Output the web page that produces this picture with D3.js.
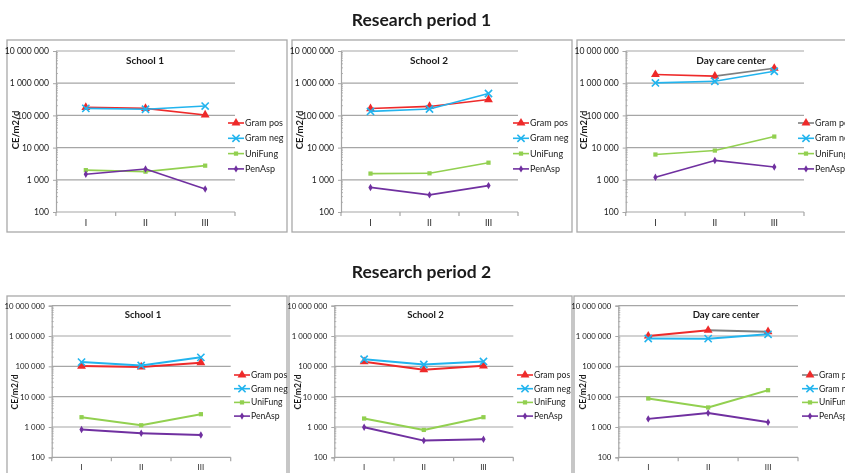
<!DOCTYPE html>
<html>
<head>
<meta charset="utf-8">
<script src="https://cdn.jsdelivr.net/npm/d3@7"></script>
<style>
  html, body { margin: 0; padding: 0; background: #ffffff; }
  svg { display: block; }
  text { font-family: Lato, "Liberation Sans", Arial, sans-serif; fill: #1a1a1a; }
</style>
</head>
<body>
<svg id="chart" width="845" height="473"></svg>
<script>
// ---- data ----------------------------------------------------------
const categories = ["I", "II", "III"];
const seriesNames = ["Gram pos", "Gram neg", "UniFung", "PenAsp"];
const yTickValues = [100, 1000, 10000, 100000, 1000000, 10000000];
const periodTitles = ["Research period 1", "Research period 2"];
const siteTitles = ["School 1", "School 2", "Day care center"];

// rows: Gram pos, Gram neg, UniFung, PenAsp — columns: I, II, III (CE/m2/d)
const period1School1 = [
  [178000, 165000, 103000],
  [165000, 155000, 195000],
  [2000, 1790, 2750],
  [1480, 2170, 520]
];
const period1School2 = [
  [163000, 190000, 310000],
  [133000, 158000, 480000],
  [1560, 1590, 3400],
  [580, 340, 660]
];
const period1DayCare = [
  [1860000, 1660000, 2900000],
  [1020000, 1150000, 2350000],
  [6100, 8100, 22000],
  [1200, 4000, 2500]
];
const period2School1 = [
  [102000, 96000, 132000],
  [138000, 107000, 198000],
  [2100, 1140, 2640],
  [825, 620, 545]
];
const period2School2 = [
  [142000, 77000, 104000],
  [172000, 115000, 145000],
  [1900, 800, 2100],
  [980, 355, 395]
];
const period2DayCare = [
  [1000000, 1550000, 1390000],
  [830000, 820000, 1140000],
  [8700, 4400, 16300],
  [1850, 2900, 1440]
];

// ---- styling ------------------------------------------------------
const seriesColors = ["#ee2a2a", "#22b4ee", "#92d050", "#7030a0"];
const seriesMarkers = ["triangle", "cross", "square", "diamond"];
const gridColor = "#a6a6a6";
const frameColor = "#a9a9a9";
const textColor = "#1a1a1a";

// ---- layout -------------------------------------------------------
const rows = [
  {
    data: [period1School1, period1School2, period1DayCare],
    titleY: 26, frameTop: 40, frameBottom: 232,
    plotTop: 51, plotBottom: 212, catY: 225.5, siteY: 63.5,
    yTitleY: 130, legendY0: 123, legendDy: 15.3,
    fs: { tick: 8.6, yTitle: 9.5, site: 10, legend: 9 },
    panels: [
      { frame: [7, 287], plot: [56, 235], legendX: 228, yTitleX: 16, titleX: 145, greyTail: false },
      { frame: [292, 572], plot: [341, 518], legendX: 513, yTitleX: 300, titleX: 429, greyTail: false },
      { frame: [577, 900], plot: [625.7, 804], legendX: 798, yTitleX: 584, titleX: 731, greyTail: true }
    ]
  },
  {
    data: [period2School1, period2School2, period2DayCare],
    titleY: 278, frameTop: 296, frameBottom: 490,
    plotTop: 305.7, plotBottom: 457.3, catY: 470, siteY: 317.5,
    yTitleY: 392, legendY0: 375, legendDy: 13.7,
    fs: { tick: 7.8, yTitle: 8.6, site: 9.6, legend: 8.6 },
    panels: [
      { frame: [7, 287], plot: [51.7, 230.7], legendX: 234, yTitleX: 15, titleX: 143, greyTail: false },
      { frame: [289, 572], plot: [334.3, 513.3], legendX: 517, yTitleX: 298, titleX: 425.5, greyTail: false },
      { frame: [574, 900], plot: [618.3, 798], legendX: 802, yTitleX: 583, titleX: 726, greyTail: true }
    ]
  }
];

const svg = d3.select("#chart");

// render everything through a neutral filter so text gets greyscale anti-aliasing
svg.append("defs").append("filter").attr("id", "flat")
  .attr("x", 0).attr("y", 0).attr("width", 1).attr("height", 1)
  .attr("filterUnits", "userSpaceOnUse")
  .append("feOffset").attr("dx", 0).attr("dy", 0);
svg.select("#flat").attr("width", 845).attr("height", 473);
const root = svg.append("g").attr("filter", "url(#flat)");
root.append("rect").attr("width", 845).attr("height", 473).attr("fill", "#fff");

const fmt = v => d3.format(",")(v).replace(/,/g, " ");

function drawMarker(g, type, color, x, y) {
  if (type === "cross") {
    const s = 3.6;
    g.append("path")
      .attr("d", `M${x - s},${y - s}L${x + s},${y + s}M${x - s},${y + s}L${x + s},${y - s}`)
      .attr("stroke", color).attr("stroke-width", 1.6).attr("fill", "none");
    return;
  }
  const sym = { triangle: d3.symbolTriangle, square: d3.symbolSquare, diamond: d3.symbolDiamond }[type];
  const size = { triangle: 34, square: 18, diamond: 16 }[type];
  g.append("path")
    .attr("d", d3.symbol(sym, size)())
    .attr("transform", `translate(${x},${y})`)
    .attr("fill", color);
}

rows.forEach((row, ri) => {
  root.append("text")
    .attr("x", 421.5).attr("y", row.titleY)
    .attr("text-anchor", "middle")
    .attr("font-size", 17.5).attr("font-weight", 700)
    .attr("fill", textColor)
    .text(periodTitles[ri]);

  row.panels.forEach((p, pi) => {
    const values = row.data[pi];
    const g = root.append("g");

    // panel frame
    g.append("rect")
      .attr("x", p.frame[0]).attr("y", row.frameTop)
      .attr("width", p.frame[1] - p.frame[0]).attr("height", row.frameBottom - row.frameTop)
      .attr("fill", "#fff").attr("stroke", frameColor).attr("stroke-width", 1.3);

    const x = d3.scaleBand().domain(categories).range(p.plot);
    const y = d3.scaleLog().domain([100, 10000000]).range([row.plotBottom, row.plotTop]);

    // horizontal gridlines
    g.append("g").selectAll("line").data(yTickValues).join("line")
      .attr("x1", p.plot[0]).attr("x2", p.plot[1])
      .attr("y1", d => y(d)).attr("y2", d => y(d))
      .attr("stroke", gridColor).attr("stroke-width", 1.2);

    // y axis with major labels
    const yAxis = g.append("g")
      .attr("transform", `translate(${p.plot[0]},0)`)
      .call(d3.axisLeft(y).tickValues(yTickValues).tickFormat(fmt).tickSize(3).tickPadding(4));
    yAxis.select(".domain").attr("stroke", gridColor).attr("stroke-width", 1.2);
    yAxis.selectAll(".tick line").attr("stroke", gridColor);
    yAxis.selectAll(".tick text")
      .attr("font-family", "Lato, 'Liberation Sans', sans-serif")
      .attr("font-size", row.fs.tick).attr("fill", textColor);

    // log minor ticks
    const minor = [];
    for (let e = 100; e < 10000000; e *= 10) for (let k = 2; k <= 9; k++) minor.push(e * k);
    g.append("g").selectAll("line").data(minor).join("line")
      .attr("x1", p.plot[0]).attr("x2", p.plot[0] + 2)
      .attr("y1", d => y(d)).attr("y2", d => y(d))
      .attr("stroke", gridColor).attr("stroke-width", 0.8);

    // x axis: category boundary ticks and labels
    const bounds = [0, 1, 2, 3].map(i => p.plot[0] + i * x.step());
    g.append("g").selectAll("line").data(bounds).join("line")
      .attr("x1", d => d).attr("x2", d => d)
      .attr("y1", row.plotBottom).attr("y2", row.plotBottom + 4)
      .attr("stroke", gridColor).attr("stroke-width", 1.2);
    g.append("g").selectAll("text").data(categories).join("text")
      .attr("x", d => x(d) + x.bandwidth() / 2).attr("y", row.catY)
      .attr("text-anchor", "middle").attr("font-size", row.fs.tick)
      .attr("fill", textColor)
      .text(d => d);

    // axis title
    g.append("text")
      .attr("transform", `translate(${p.yTitleX + 3},${row.yTitleY}) rotate(-90)`)
      .attr("text-anchor", "middle").attr("font-size", row.fs.yTitle).attr("font-weight", 700)
      .attr("fill", textColor)
      .text("CE/m2/d");

    // panel title
    g.append("text")
      .attr("x", p.titleX).attr("y", row.siteY)
      .attr("text-anchor", "middle").attr("font-size", row.fs.site).attr("font-weight", 700)
      .attr("fill", textColor)
      .text(siteTitles[pi]);

    // series lines and markers
    const cx = c => x(c) + x.bandwidth() / 2;
    values.forEach((vals, si) => {
      const pts = vals.map((v, i) => [cx(categories[i]), y(v)]);
      for (let i = 0; i < pts.length - 1; i++) {
        const segColor = (si === 0 && p.greyTail && i > 0) ? "#7f7f7f" : seriesColors[si];
        g.append("path")
          .attr("d", d3.line()([pts[i], pts[i + 1]]))
          .attr("stroke", segColor).attr("stroke-width", ri === 0 ? 1.6 : 2)
          .attr("fill", "none");
      }
      pts.forEach(pt => drawMarker(g, seriesMarkers[si], seriesColors[si], pt[0], pt[1]));
    });

    // legend
    seriesNames.forEach((name, si) => {
      const ly = row.legendY0 + si * row.legendDy;
      const lineColor = (si === 0 && p.greyTail) ? "#7f7f7f" : seriesColors[si];
      g.append("line")
        .attr("x1", p.legendX).attr("x2", p.legendX + 16)
        .attr("y1", ly).attr("y2", ly)
        .attr("stroke", lineColor).attr("stroke-width", 1.6);
      drawMarker(g, seriesMarkers[si], seriesColors[si], p.legendX + 8, ly);
      g.append("text")
        .attr("x", p.legendX + 17).attr("y", ly + 3)
        .attr("font-size", row.fs.legend)
        .attr("fill", textColor)
        .text(name);
    });
  });
});
</script>
</body>
</html>
